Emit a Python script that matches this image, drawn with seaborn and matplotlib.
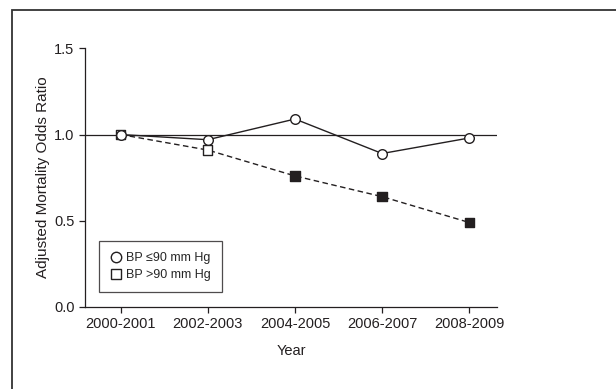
import numpy as np
import pandas as pd
import matplotlib
matplotlib.use("Agg")
import matplotlib.pyplot as plt
from matplotlib.lines import Line2D
from matplotlib.patches import Rectangle
import seaborn as sns

years = ["2000-2001", "2002-2003", "2004-2005", "2006-2007", "2008-2009"]
bp_low = [1.00, 0.97, 1.09, 0.89, 0.98]
bp_high = [1.00, 0.91, 0.76, 0.64, 0.49]
high_filled = [False, False, True, True, True]

sns.set_style("ticks")
plt.rcParams["font.family"] = ["Liberation Sans Narrow", "Liberation Sans", "DejaVu Sans"]
ink = "#231f20"

pos = np.arange(len(years))
df_low = pd.DataFrame({"x": pos, "y": bp_low})
df_high = pd.DataFrame({"x": pos, "y": bp_high,
                        "fill": ["filled" if f else "open" for f in high_filled]})

fig = plt.figure(figsize=(6.16, 3.89), dpi=100)
ax = fig.add_axes([0.138, 0.2108, 0.669, 0.665])

# outer frame
fig.patches.append(Rectangle((12 / 616, -0.05), 1.0, 1 - 10 / 389 + 0.05,
                             transform=fig.transFigure, fill=False,
                             edgecolor="#333333", linewidth=1.3))

ax.axhline(1.0, color=ink, linewidth=0.9, zorder=1)

sns.lineplot(data=df_low, x="x", y="y", ax=ax, color=ink, linewidth=1.0,
             estimator=None, zorder=2)
sns.lineplot(data=df_high, x="x", y="y", ax=ax, color=ink, linewidth=1.0,
             linestyle=(0, (4, 2.5)), estimator=None, zorder=2)

sns.scatterplot(data=df_low, x="x", y="y", ax=ax, marker="o", s=48,
                facecolor="white", edgecolor=ink, linewidth=1.0, zorder=4)
sns.scatterplot(data=df_high, x="x", y="y", ax=ax, marker="s", s=44,
                hue="fill", palette={"open": "white", "filled": ink},
                edgecolor=ink, linewidth=1.0, zorder=3, legend=False)

ax.set_xlim(-0.41, 4.32)
ax.set_ylim(0, 1.5)
ax.set_xticks(pos)
ax.set_xticklabels(years)
ax.set_yticks([0.0, 0.5, 1.0, 1.5])
ax.set_yticklabels(["0.0", "0.5", "1.0", "1.5"])
ax.tick_params(labelsize=10.5, colors=ink, length=4, width=0.9)
ax.set_xlabel("Year", fontsize=10.5, color=ink, labelpad=9)
ax.set_ylabel("Adjusted Mortality Odds Ratio", fontsize=11, color=ink, labelpad=3)
sns.despine(ax=ax)
for s in ["left", "bottom"]:
    ax.spines[s].set_color(ink)
    ax.spines[s].set_linewidth(0.9)

handles = [
    Line2D([], [], marker="o", linestyle="none", markersize=7.5,
           markerfacecolor="white", markeredgecolor=ink, markeredgewidth=1.0),
    Line2D([], [], marker="s", linestyle="none", markersize=7,
           markerfacecolor="white", markeredgecolor=ink, markeredgewidth=1.0),
]
leg = ax.legend(handles, ["BP \u226490 mm Hg", "BP >90 mm Hg"],
                loc="lower left", bbox_to_anchor=(0.033, 0.057),
                fancybox=False, fontsize=9, handletextpad=0.3,
                handlelength=1.0, borderpad=0.9, labelspacing=0.4,
                borderaxespad=0)
leg.get_frame().set_edgecolor(ink)
leg.get_frame().set_linewidth(0.9)

fig.savefig("out.png", dpi=100)
